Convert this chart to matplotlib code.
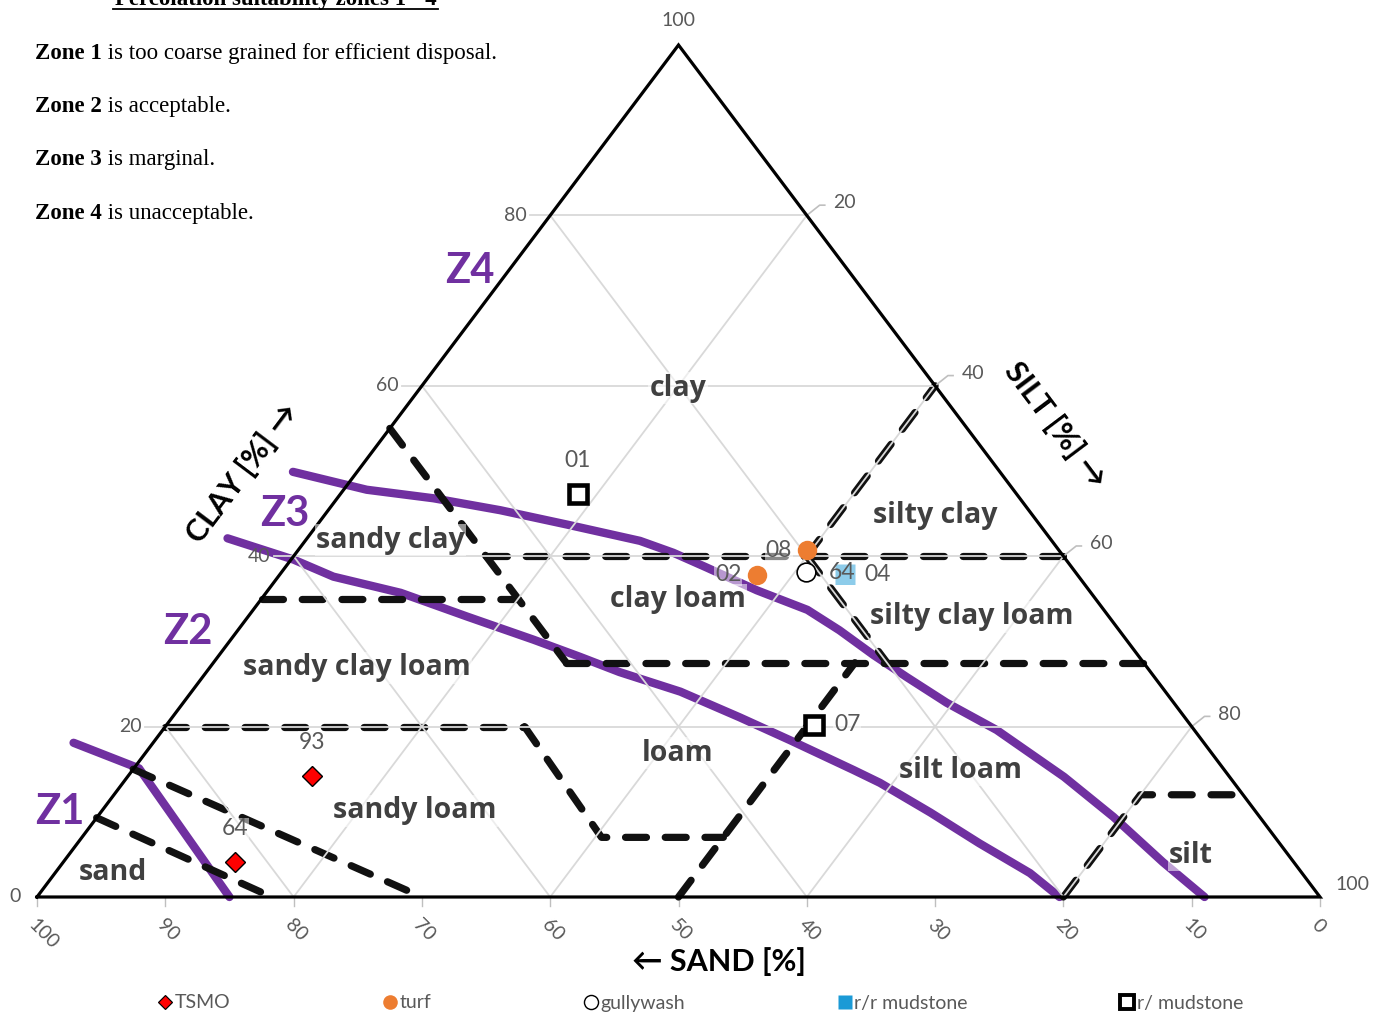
import matplotlib

matplotlib.use("Agg")
import matplotlib.pyplot as plt
from matplotlib.lines import Line2D
import numpy as np

# ---- data (ternary, percent; sand = 100 - silt - clay) ----
# percolation zone boundaries (purple)
z1_silt = [-6.2, 0.4, 15.0]
z1_clay = [18.1, 15.1, 0.0]
z2_silt = [-6.2, 0.2, 4.3, 10.5, 17.1, 23.6, 28.2, 32.2, 38.1, 44.2, 49.5, 56.2, 59.0, 64.7, 70.3, 76.0, 79.7]
z2_clay = [42.1, 39.6, 37.6, 35.7, 32.9, 30.2, 28.2, 26.4, 24.1, 21.1, 18.4, 14.9, 13.4, 9.9, 6.3, 2.8, 0.0]
z3_silt = [-5.0, 1.8, 7.5, 13.4, 19.5, 26.1, 29.4, 32.8, 38.1, 43.2, 46.9, 51.0, 54.9, 59.5, 65.0, 73.0, 79.2, 85.7, 91.0]
z3_clay = [49.9, 47.8, 46.8, 45.4, 43.7, 41.8, 40.4, 38.7, 36.0, 33.7, 31.3, 28.4, 25.8, 22.8, 19.6, 14.1, 9.4, 4.1, 0.0]

# soil texture class boundaries (dashed), each as (silt list, clay list)
texture_bounds = [
    ([0, 18.3], [9.3, 0]),
    ([0, 30], [15, 0]),
    ([0, 28], [20, 20]),
    ([28, 40.5, 50], [20, 7, 7]),
    ([50, 50], [0, 27.5]),
    ([0, 27.5], [55, 27.5]),
    ([0, 20], [35, 35]),
    ([15, 60], [40, 40]),
    ([27.5, 72.5], [27.5, 27.5]),
    ([40, 40], [40, 60]),
    ([40, 52.5], [40, 27.5]),
    ([80, 80, 88], [0, 12, 12]),
]

class_names = ["clay", "silty clay", "sandy clay", "clay loam", "silty clay loam",
               "sandy clay loam", "loam", "silt loam", "sandy loam", "sand", "silt"]
class_silt = [20.1, 47.6, 6.6, 32.5, 56.4, 11.5, 41.5, 64.5, 24.4, 4.5, 87.5]
class_clay = [59.7, 44.8, 41.9, 34.9, 32.9, 26.9, 16.9, 14.9, 10.1, 2.9, 4.9]

# samples
tsmo_silt = [14.3, 13.4]
tsmo_clay = [14.2, 4.1]
tsmo_ids = ["93", "64"]
turf_silt = [39.7, 37.2]
turf_clay = [40.7, 37.8]
turf_ids = ["08", "02"]
gully_silt = [40.9]
gully_clay = [38.1]
gully_ids = ["64"]
rr_silt = [44.0]
rr_clay = [37.9]
rr_ids = ["04"]
r_silt = [18.5, 50.5]
r_clay = [47.3, 20.2]
r_ids = ["01", "07"]

PURPLE = "#7030A0"
GREY_TXT = "#595959"
GRID = "#D9D9D9"
FONT = "Lato"
LABEL_FONT = "Open Sans"
W, H = 1375, 1015


def tern(silt, clay):
    silt = np.asarray(silt, dtype=float)
    clay = np.asarray(clay, dtype=float)
    return silt + clay / 2.0, clay


def fpos(x, y):
    return x / W, 1 - y / H


fig = plt.figure(figsize=(W / 100, H / 100), dpi=100)
ax = fig.add_axes([37 / W, 118 / H, 1283 / W, 852 / H])
ax.set_xlim(0, 100)
ax.set_ylim(0, 100)
ax.axis("off")

# zone boundaries
for s, c in [(z1_silt, z1_clay), (z2_silt, z2_clay), (z3_silt, z3_clay)]:
    x, y = tern(s, c)
    ax.plot(x, y, color=PURPLE, lw=6, solid_capstyle="round", zorder=2, clip_on=False)

# texture class boundaries
for s, c in texture_bounds:
    x, y = tern(s, c)
    ax.plot(x, y, color="#111111", lw=5.2, ls=(0, (2.9, 2.6)), dash_capstyle="round",
            solid_joinstyle="round", zorder=3, clip_on=False)

# grid
for v in (20, 40, 60, 80):
    for s, c in [([0, 100 - v], [v, v]), ([100 - v, 0], [0, 100 - v]), ([v, v], [0, 100 - v])]:
        x, y = tern(s, c)
        ax.plot(x, y, color=GRID, lw=1.3, zorder=4)

# outline
ax.plot([0, 50, 100, 0], [0, 100, 0, 0], color="black", lw=2.3, zorder=5,
        clip_on=False, solid_joinstyle="miter")

# bottom ticks (sand)
for v in range(0, 101, 10):
    xb = 100 - v
    ax.plot([xb, xb], [0, -1.0], color="#BFBFBF", lw=1, clip_on=False, zorder=1)
    ax.annotate(str(v), xy=(xb, 0), xytext=(-4, -18), textcoords="offset points",
                rotation=-45, rotation_mode="anchor", ha="left", va="center",
                fontsize=14, color=GREY_TXT, family=FONT, annotation_clip=False)

# left ticks (clay)
for v in (0, 20, 40, 60, 80):
    xe, ye = tern(0, v)
    if v > 0:
        ax.plot([xe - 1.56, xe], [ye, ye], color=GRID, lw=1.3, clip_on=False, zorder=4)
    ax.annotate(str(v), xy=(xe, ye), xytext=(-12 if v == 0 else -17, 0),
                textcoords="offset points", ha="right", va="center", fontsize=14,
                color=GREY_TXT, family=FONT, annotation_clip=False)
ax.annotate("100", xy=(50, 100), xytext=(0, 18), textcoords="offset points",
            ha="center", va="center", fontsize=14, color=GREY_TXT, family=FONT,
            annotation_clip=False)

# right ticks (silt)
for v in (20, 40, 60, 80, 100):
    xe, ye = tern(v, 100 - v)
    if v < 100:
        ax.plot([xe, xe + 1.0, xe + 1.4], [ye, ye + 1.2, ye + 1.2], color="#BFBFBF",
                lw=1.2, clip_on=False, zorder=4)
    ax.annotate(str(v), xy=(xe, ye), xytext=(11 if v == 100 else 19, 9),
                textcoords="offset points", ha="left", va="center", fontsize=14,
                color=GREY_TXT, family=FONT, annotation_clip=False)

# class names
for name, s, c in zip(class_names, class_silt, class_clay):
    x, y = tern(s, c)
    ax.text(x, y, name, ha="center", va="center", fontsize=20.5, fontweight="bold",
            color="#404040", family=LABEL_FONT, zorder=6,
            bbox=dict(facecolor="white", alpha=0.55, edgecolor="none", pad=1.0))

# sample points
series = [
    ("TSMO", tsmo_silt, tsmo_clay, tsmo_ids,
     dict(marker="D", ms=10, mfc="#FF0000", mec="black", mew=1)),
    ("turf", turf_silt, turf_clay, turf_ids,
     dict(marker="o", ms=14, mfc="#ED7D31", mec="none")),
    ("gullywash", gully_silt, gully_clay, gully_ids,
     dict(marker="o", ms=13.5, mfc="white", mec="black", mew=1.2)),
    ("r/r mudstone", rr_silt, rr_clay, rr_ids,
     dict(marker="s", ms=14, mfc="#1B9AD6", mec="none")),
    ("r/ mudstone", r_silt, r_clay, r_ids,
     dict(marker="s", ms=13.5, mfc="white", mec="black", mew=3.3)),
]
label_side = {"TSMO": ["above", "above"], "turf": ["left", "left"], "gullywash": ["right"],
              "r/r mudstone": ["right"], "r/ mudstone": ["above", "right"]}
offsets = {"above": ((0, 24), "center"), "left": ((-11, 0), "right"), "right": ((14, 0), "left")}

handles = []
for name, s, c, ids, style in series:
    x, y = tern(s, c)
    ax.plot(x, y, ls="none", zorder=7, clip_on=False, **style)
    for xi, yi, lab, side in zip(x, y, ids, label_side[name]):
        off, ha = offsets[side]
        if name == "gullywash":
            off = (off[0] + 2, off[1])
        ax.annotate(lab, xy=(xi, yi), xytext=off, textcoords="offset points",
                    ha=ha, va="center", fontsize=16.5, color=GREY_TXT, family=FONT, zorder=8,
                    bbox=dict(facecolor="white", alpha=0.5, edgecolor="none", pad=0.5))
    lg_style = dict(style)
    lg_style["ms"] = style["ms"] * 0.75
    if "mew" in lg_style:
        lg_style["mew"] = lg_style["mew"] * 0.85
    handles.append(Line2D([], [], ls="none", label=name, **lg_style))

fig.legend(handles=handles, loc="center", bbox_to_anchor=fpos(700, 1003), ncol=5,
           frameon=False, columnspacing=7.75, handletextpad=0.05, handlelength=0.9,
           labelcolor=GREY_TXT, prop=dict(family=FONT, size=14))

# zone labels
for lab, (xp, yp) in zip(["Z4", "Z3", "Z2", "Z1"],
                         [(470, 271), (285, 514), (188, 632), (60, 812)]):
    fig.text(*fpos(xp, yp), lab, ha="center", va="center", fontsize=30,
             fontweight="bold", color=PURPLE, family=FONT)

# axis titles
fig.text(*fpos(242, 473), "CLAY [%] \u2192", rotation=53, ha="center", va="center",
         fontsize=22, fontweight="bold", color="black", family=FONT)
fig.text(*fpos(1055, 425), "SILT [%] \u2192", rotation=-53, ha="center", va="center",
         fontsize=22, fontweight="bold", color="black", family=FONT)
fig.text(*fpos(719, 962), "\u2190 SAND [%]", ha="center", va="center",
         fontsize=22, fontweight="bold", color="black", family=FONT)

# notes top-left
SERIF = "Liberation Serif"
fig.text(*fpos(276, 5), "Percolation suitability zones 1 - 4", ha="center",
         va="baseline", fontsize=16.5, fontweight="bold", family=SERIF)
fig.add_artist(Line2D([113 / W, 438 / W], [1 - 9 / H, 1 - 9 / H], color="black", lw=1.3))
notes = [("Zone 1", "is too coarse grained for efficient disposal."),
         ("Zone 2", "is acceptable."),
         ("Zone 3", "is marginal."),
         ("Zone 4", "is unacceptable.")]
for (b, rest), yb in zip(notes, [59, 112, 165, 219]):
    t = fig.text(*fpos(35, yb), b, ha="left", va="baseline", fontsize=16.5,
                 fontweight="bold", family=SERIF)
    ax.annotate(" " + rest, xy=(1, 0), xycoords=t, xytext=(0, 0), textcoords="offset points",
                ha="left", va="bottom", fontsize=16.5, family=SERIF, annotation_clip=False)

fig.savefig("out.png", dpi=100)
